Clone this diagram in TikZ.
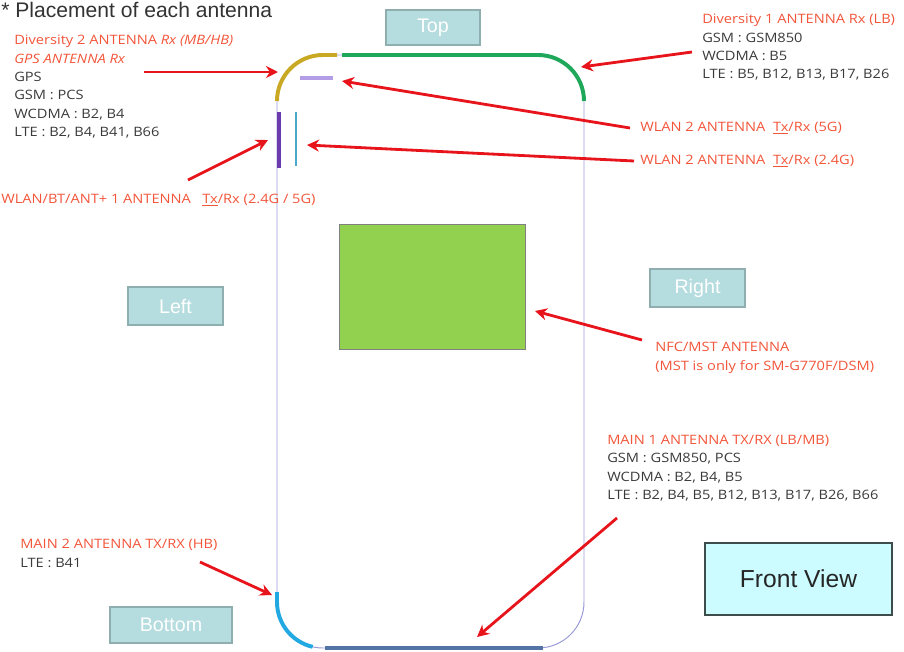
\documentclass[tikz,border=0pt]{standalone}
\usepackage{fontspec}
\setmainfont{Open Sans}
\newfontfamily\infofont[FakeStretch=1.13]{Open Sans}
\newfontfamily\arialfont{Liberation Sans}
\usetikzlibrary{arrows.meta}
\definecolor{labelred}{HTML}{F2553A}
\definecolor{textgray}{HTML}{3A3A3A}
\definecolor{arrowred}{HTML}{E8141B}
\definecolor{phoneline}{HTML}{9A9AD8}
\definecolor{antgold}{HTML}{C9A823}
\definecolor{antgreen}{HTML}{1FA75A}
\definecolor{antlilac}{HTML}{B39DE6}
\definecolor{antpurple}{HTML}{6B3AAE}
\definecolor{antteal}{HTML}{4AA8C8}
\definecolor{antcyan}{HTML}{22A9E2}
\definecolor{antsteel}{HTML}{5574A6}
\definecolor{nfcgreen}{HTML}{92D050}
\definecolor{sidefill}{HTML}{B5DCDE}
\definecolor{sideedge}{HTML}{8EAEB0}
\definecolor{viewfill}{HTML}{CCFCFF}
\definecolor{viewedge}{HTML}{3E4C4C}
\tikzset{
	infotext/.style={
		anchor=north west,
		inner sep=0pt,
		align=left,
		text=textgray,
		font=\infofont\fontsize{9.2}{13.05}\selectfont
	},
	sidebox/.style={
		draw=sideedge,
		fill=sidefill,
		line width=0.9pt,
		text=white,
		font=\arialfont\fontsize{14}{14}\selectfont
	},
	pointer/.style={
		draw=arrowred,
		line width=2pt,
		-{Stealth[length=0.3cm,width=0.3cm]}
	},
	antenna/.style={
		line width=2.8pt
	}
}
\begin{document}
\begin{tikzpicture}[x=0.025cm,y=-0.025cm]
	\useasboundingbox (0,0) rectangle (904,652);
	% Gehaeuse
	\draw[
		color=phoneline,
		line width=0.7pt,
		rounded corners=1.15cm
	] (277,55) rectangle (584,648);
	% Diversity 2 / GPS (oben links)
	\draw[
		antenna,
		color=antgold
	] (277,101) arc[start angle=180,end angle=270,radius=46] -- (337,55);
	% Diversity 1 (oben rechts)
	\draw[
		antenna,
		color=antgreen
	] (342,55) -- (538,55) arc[start angle=270,end angle=360,radius=46];
	% WLAN 2 (5G)
	\draw[
		line width=2.2pt,
		color=antlilac
	] (300,78) -- (333,78);
	% WLAN/BT/ANT+ 1
	\draw[
		line width=2.2pt,
		color=antpurple
	] (279,112) -- (279,168);
	% WLAN 2 (2.4G)
	\draw[
		line width=2pt,
		color=antteal
	] (296,112) -- (296,166);
	% Main 2 (unten links)
	\draw[
		antenna,
		color=antcyan
	] (277,592) -- (277,602) arc[start angle=180,end angle=103,radius=46];
	% Main 1 (unten)
	\draw[
		antenna,
		color=antsteel
	] (325,648) -- (543,648);
	% NFC/MST
	\node[
		draw=gray,
		fill=nfcgreen,
		line width=0.5pt,
		minimum width=186*0.025cm,
		minimum height=125*0.025cm,
		inner sep=0pt
	] (nfc) at (432,286.5) {};

	% Ueberschrift
	\node[
		anchor=base west,
		inner sep=0pt,
		text=black!80,
		font=\arialfont\fontsize{15}{15}\selectfont
	] (title) at (1,17) {* Placement of each antenna};
	% Seiten
	\node[sidebox, minimum width=94*0.025cm, minimum height=35*0.025cm] (top) at (433,27.5) {Top};
	\node[sidebox, minimum width=95*0.025cm, minimum height=38*0.025cm] (left) at (175.5,306) {Left};
	\node[sidebox, minimum width=95*0.025cm, minimum height=38*0.025cm] (right) at (697.5,288) {Right};
	\node[sidebox, minimum width=122*0.025cm, minimum height=36*0.025cm] (bottom) at (171,625) {Bottom};
	\node[
		draw=viewedge,
		fill=viewfill,
		line width=2pt,
		minimum width=187*0.025cm,
		minimum height=72*0.025cm,
		text=black!85,
		font=\arialfont\fontsize{17.5}{17.5}\selectfont
	] (frontview) at (798.5,579) {Front View};

	% Beschriftungen
	\node[infotext] (div2) at (14,35) {\textcolor{labelred}{Diversity 2 ANTENNA \textit{Rx (MB/HB)}}\\
		\textcolor{labelred}{\textit{GPS ANTENNA Rx}}\\
		GPS\\
		GSM : PCS\\
		WCDMA : B2, B4\\
		LTE : B2, B4, B41, B66};
	\node[infotext] (div1) at (702,14) {\textcolor{labelred}{Diversity 1 ANTENNA Rx (LB)}\\
		GSM : GSM850\\
		WCDMA : B5\\
		LTE : B5, B12, B13, B17, B26};
	\node[infotext, text=labelred] (wlanfive) at (640,122) {WLAN 2 ANTENNA\ \ \underline{Tx}/Rx (5G)};
	\node[infotext, text=labelred] (wlantwo) at (640,155) {WLAN 2 ANTENNA\ \ \underline{Tx}/Rx (2.4G)};
	\node[infotext, text=labelred] (wlanbt) at (1,194) {WLAN/BT/ANT+ 1 ANTENNA\ \ \ \underline{Tx}/Rx (2.4G / 5G)};
	\node[infotext, text=labelred] (nfctext) at (655,342) {NFC/MST ANTENNA\\
		(MST is only for SM-G770F/DSM)};
	\node[infotext] (main1) at (607,435) {\textcolor{labelred}{MAIN 1 ANTENNA TX/RX (LB/MB)}\\
		GSM : GSM850, PCS\\
		WCDMA : B2, B4, B5\\
		LTE : B2, B4, B5, B12, B13, B17, B26, B66};
	\node[infotext] (main2) at (20,539) {\textcolor{labelred}{MAIN 2 ANTENNA TX/RX (HB)}\\
		LTE : B41};

	% Pfeile
	\coordinate (divtwoTail) at (144,72);
	\coordinate (divtwoHead) at (278,72);
	\coordinate (divoneTail) at (692,52);
	\coordinate (divoneHead) at (581,67);
	\coordinate (wlanfiveTail) at (630,128);
	\coordinate (wlanfiveHead) at (342,81);
	\coordinate (wlantwoTail) at (634,161);
	\coordinate (wlantwoHead) at (307,145);
	\coordinate (wlanbtTail) at (188,180);
	\coordinate (wlanbtHead) at (268,140);
	\coordinate (nfcTail) at (642,340);
	\coordinate (nfcHead) at (535,311);
	\coordinate (mainoneTail) at (617,518);
	\coordinate (mainoneHead) at (477,637);
	\coordinate (maintwoTail) at (200,562);
	\coordinate (maintwoHead) at (272,595);
	\draw[pointer] (divtwoTail) -- (divtwoHead);
	\draw[pointer] (divoneTail) -- (divoneHead);
	\draw[pointer] (wlanfiveTail) -- (wlanfiveHead);
	\draw[pointer] (wlantwoTail) -- (wlantwoHead);
	\draw[pointer] (wlanbtTail) -- (wlanbtHead);
	\draw[pointer] (nfcTail) -- (nfcHead);
	\draw[pointer] (mainoneTail) -- (mainoneHead);
	\draw[pointer] (maintwoTail) -- (maintwoHead);
\end{tikzpicture}
\end{document}
